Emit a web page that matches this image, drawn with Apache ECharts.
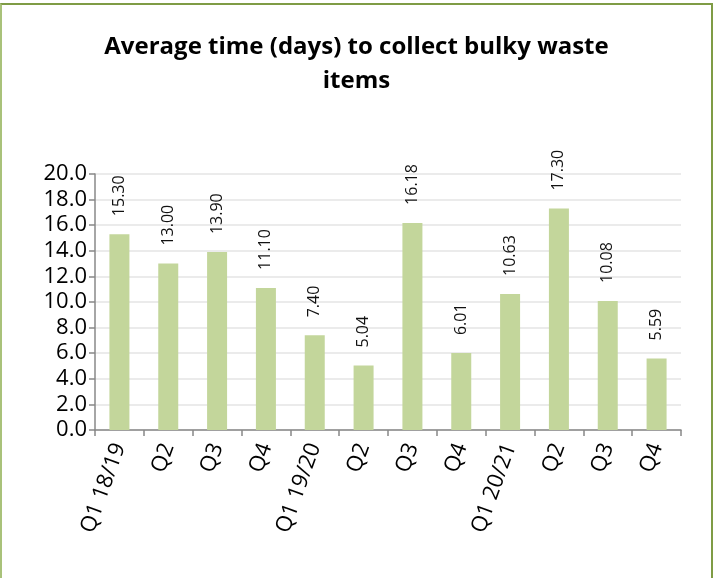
<!DOCTYPE html>
<html>
<head>
<meta charset="utf-8">
<script src="https://cdn.jsdelivr.net/npm/echarts@6/dist/echarts.min.js"></script>
<style>
  html, body { margin: 0; padding: 0; background: #fff; overflow: hidden; }
  #frame {
    position: absolute; left: 0; top: 3px; width: 709px; height: 600px;
    border: 2px solid #7F9C45; border-left-color: #A9C27A;
  }
  #chart { position: absolute; left: 0; top: 0; width: 713px; height: 578px; }
</style>
</head>
<body>
<div id="frame"></div>
<div id="chart"></div>
<script>
// categories and values
const quarters = ['Q1 18/19', 'Q2', 'Q3', 'Q4', 'Q1 19/20', 'Q2', 'Q3', 'Q4', 'Q1 20/21', 'Q2', 'Q3', 'Q4'];
const avgDays = [15.30, 13.00, 13.90, 11.10, 7.40, 5.04, 16.18, 6.01, 10.63, 17.30, 10.08, 5.59];

const chart = echarts.init(document.getElementById('chart'));

chart.setOption({
  animation: false,
  title: {
    text: 'Average time (days) to collect bulky waste\nitems',
    left: 'center',
    top: 25,
    textStyle: {
      fontFamily: 'Open Sans',
      fontWeight: 'bold',
      fontSize: 24,
      lineHeight: 34,
      color: '#000'
    }
  },
  grid: {
    left: 95,
    right: 32,
    top: 174,
    bottom: 148
  },
  xAxis: {
    type: 'category',
    data: quarters,
    axisLine: { lineStyle: { color: '#888', width: 1.5 } },
    axisTick: { show: true, length: 6, lineStyle: { color: '#888', width: 1.5 } },
    axisLabel: {
      rotate: 70,
      interval: 0,
      margin: 14,
      color: '#000',
      fontFamily: 'Open Sans',
      fontSize: 22
    }
  },
  yAxis: {
    type: 'value',
    min: 0,
    max: 20,
    interval: 2,
    axisLine: { show: true, lineStyle: { color: '#888', width: 1.5 } },
    axisTick: { show: true, length: 6, lineStyle: { color: '#888', width: 1.5 } },
    splitLine: { lineStyle: { color: '#EBEBEB', width: 2 } },
    axisLabel: {
      formatter: v => v.toFixed(1),
      color: '#000',
      fontFamily: 'Open Sans',
      fontSize: 22,
      margin: 8
    }
  },
  series: [{
    type: 'bar',
    data: avgDays,
    barWidth: 20,
    itemStyle: { color: '#C3D69B' },
    label: {
      show: true,
      position: 'top',
      rotate: 90,
      align: 'left',
      verticalAlign: 'middle',
      distance: 18,
      formatter: p => p.value.toFixed(2),
      color: '#111',
      fontFamily: 'Open Sans',
      fontSize: 16
    }
  }]
});
</script>
</body>
</html>
